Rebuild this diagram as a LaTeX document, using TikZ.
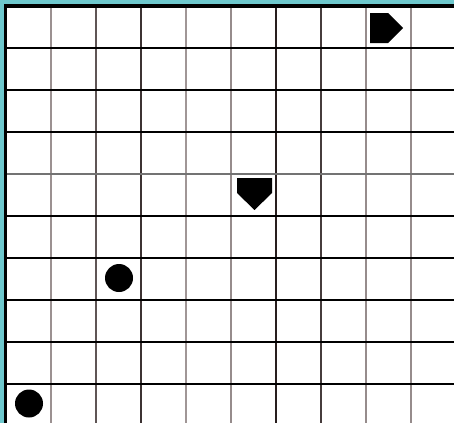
\documentclass[tikz,border=0pt]{standalone}
\definecolor{stripc}{RGB}{110,200,205}
\tikzset{
  gridv/.style={line width=2pt},
  gridh/.style={line width=2pt,black},
  shapefill/.style={fill=black},
}
\begin{document}
\begin{tikzpicture}[x=1pt,y=-1pt]
\useasboundingbox (0,0) rectangle (454,423);
\fill[white] (0,0) rectangle (454,423);
\fill[stripc] (0,0) rectangle (454,4);
\fill[stripc] (0,0) rectangle (4,423);
% vertical lines
\foreach \x/\g in {51/155,96/95,141/60,186/160,231/150,276/40,321/70,366/150,411/150}{
  \pgfmathtruncatemacro{\gb}{\g-10}
  \definecolor{lc}{RGB}{\g,\gb,\gb}
  \draw[gridv,lc] (\x,6) -- (\x,423);
}
% horizontal lines
\foreach \y in {48,90,132,216,258,300,342,384}{
  \draw[gridh] (6,\y) -- (454,\y);
}
\draw[line width=2pt,black!55] (6,174) -- (454,174);
% border
\draw[line width=3.5pt,black] (5.5,423) -- (5.5,6) -- (454,6);
% shapes
\fill[shapefill] (370,13) -- (388,13) -- (403,28) -- (388,43) -- (370,43) -- cycle;
\fill[shapefill] (237,178) -- (272,178) -- (272,193) -- (254.5,210) -- (237,193) -- cycle;
\fill[shapefill] (119,278) circle (14);
\fill[shapefill] (29,403.5) circle (14);
\end{tikzpicture}
\end{document}
